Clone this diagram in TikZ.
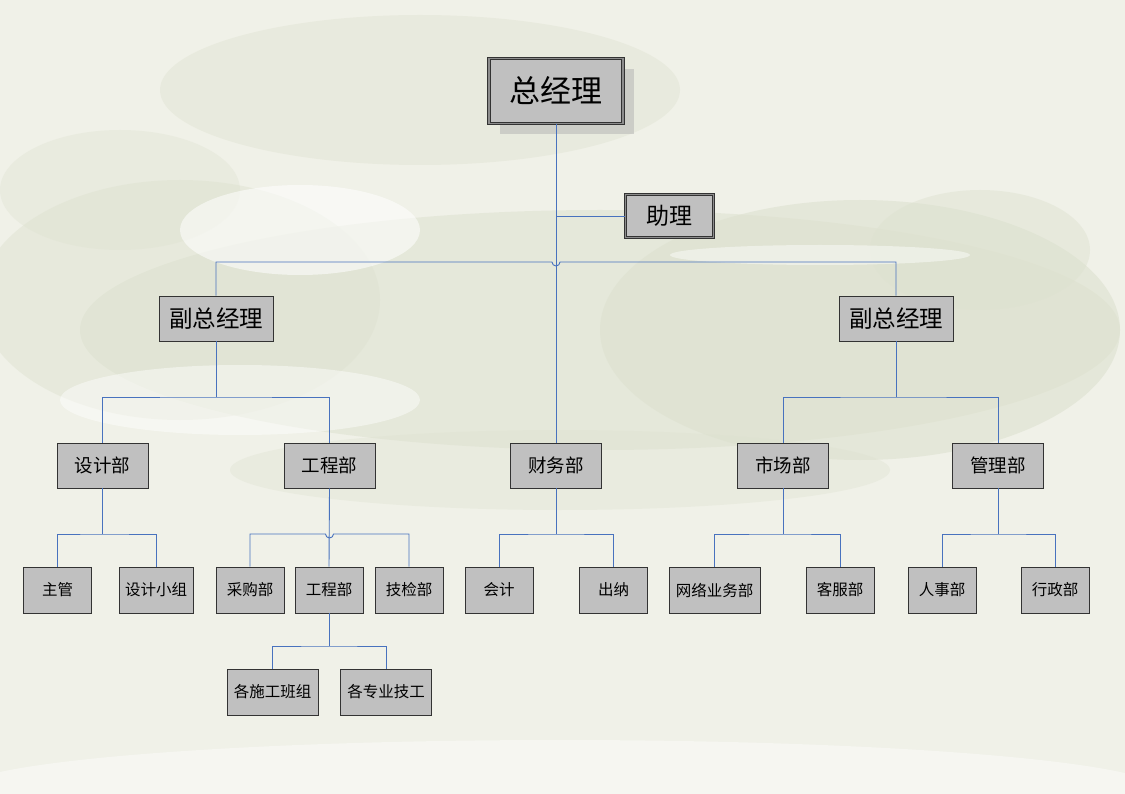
\documentclass[tikz,border=0pt]{standalone}
\usepackage{fontspec}
\setmainfont{Noto Sans CJK SC}
\usetikzlibrary{shadows}
\definecolor{cbg}{RGB}{240,241,232}
\definecolor{ccloud}{RGB}{221,225,207}
\definecolor{clink}{RGB}{72,114,190}
\definecolor{cbox}{RGB}{192,192,192}
\tikzset{org/.style={x=1pt,y=-1pt,inner sep=0pt}}
\tikzset{unit/.style={draw=black!80,fill=cbox,line width=0.9pt,text=black},
         dept/.style={unit,minimum width=91pt,minimum height=45pt,font=\fontsize{18.5}{20}\selectfont},
         team/.style={unit,minimum width=68pt,minimum height=46pt,font=\fontsize{15.5}{17}\selectfont},
         vp/.style={unit,minimum width=114pt,minimum height=45pt,font=\fontsize{23.5}{25}\selectfont},
         link/.style={clink,line width=0.9pt}}

\begin{document}
\begin{tikzpicture}[org]
    \useasboundingbox (0,0) rectangle (1125,794);
    \fill[cbg] (0,0) rectangle (1125,794);
    % clouds
    \begin{scope}
      \clip (0,0) rectangle (1125,794);
      \begin{scope}[ccloud]
        \fill[opacity=0.55] (600,330) ellipse (520 and 120);
        \fill[opacity=0.60] (860,330) ellipse (260 and 130);
        \fill[opacity=0.45] (180,300) ellipse (200 and 120);
        \fill[opacity=0.40] (420,90) ellipse (260 and 75);
        \fill[opacity=0.45] (980,250) ellipse (110 and 60);
        \fill[opacity=0.35] (560,470) ellipse (330 and 40);
        \fill[opacity=0.35] (120,190) ellipse (120 and 60);
      \end{scope}
      \fill[white,opacity=0.55] (300,230) ellipse (120 and 45);
      \fill[white,opacity=0.45] (820,255) ellipse (150 and 10);
      \fill[white,opacity=0.45] (240,400) ellipse (180 and 35);
      \fill[white,opacity=0.40] (560,790) ellipse (600 and 50);
    \end{scope}

    \node[unit,double=black!45,double distance=1.6pt,line width=0.9pt,
          minimum width=134pt,minimum height=65pt,font=\fontsize{31}{33}\selectfont,
          drop shadow={shadow xshift=11pt,shadow yshift=-11pt,fill=black!30,opacity=0.5}]
          (ceo) at (556,91) {总经理};
    \node[unit,double=black!45,double distance=1.6pt,line width=0.9pt,
          minimum width=88pt,minimum height=43pt,font=\fontsize{23}{25}\selectfont]
          (asst) at (669.5,216) {助理};
    \node[vp] (vpL) at (216,318.5) {副总经理};
    \node[vp] (vpR) at (896,318.5) {副总经理};

    \node[dept] (des) at (102.5,465.5) {设计部};
    \node[dept] (eng) at (329.5,465.5) {工程部};
    \node[dept] (fin) at (556,465.5) {财务部};
    \node[dept] (mkt) at (783,465.5) {市场部};
    \node[dept] (adm) at (998,465.5) {管理部};

    \node[team] (sup)  at (57.5,590) {主管};
    \node[team,minimum width=74pt] (dgrp) at (156,590) {设计小组};
    \node[team] (pur)  at (250,590) {采购部};
    \node[team] (eng2) at (329,590) {工程部};
    \node[team] (qc)   at (409,590) {技检部};
    \node[team] (acc)  at (499,590) {会计};
    \node[team] (cash) at (613.5,590) {出纳};
    \node[team,minimum width=91pt] (net) at (714.5,590) {网络业务部};
    \node[team] (cs)   at (840,590) {客服部};
    \node[team] (hr)   at (942,590) {人事部};
    \node[team] (off)  at (1055,590) {行政部};

    \node[team,minimum width=91pt] (crew) at (272.5,692) {各施工班组};
    \node[team,minimum width=91pt] (tech) at (386,692) {各专业技工};

    % buses
    \coordinate (bTop) at (556,262);
    \coordinate (bL) at (216,397);
    \coordinate (bR) at (896,397);
    \coordinate (bDes) at (102.5,534);
    \coordinate (bEng) at (329.5,534);
    \coordinate (bFin) at (556,534);
    \coordinate (bMkt) at (783,534);
    \coordinate (bAdm) at (998,534);
    \coordinate (bSub) at (329,646);

    \draw[link] (ceo.south) -- (fin.north);
    \draw[link] (asst.west) -- (ceo.south |- asst.west);
    \draw[link] (vpL.north) |- ([xshift=-4pt]bTop) arc[start angle=180,end angle=360,radius=4pt]
                -- (bTop -| vpR.north) -- (vpR.north);
    \draw[link] (vpL.south) -- (bL);
    \draw[link] (des.north) |- (bL) -| (eng.north);
    \draw[link] (vpR.south) -- (bR);
    \draw[link] (mkt.north) |- (bR) -| (adm.north);

    \draw[link] (des.south) -- (bDes);
    \draw[link] (sup.north) |- (bDes) -| (dgrp.north);
    \draw[link] (eng.south) -- (eng2.north);
    \draw[link] (pur.north) |- ([xshift=-4pt]bEng) arc[start angle=180,end angle=360,radius=4pt]
                -- (bEng -| qc.north) -- (qc.north);
    \draw[link] (fin.south) -- (bFin);
    \draw[link] (acc.north) |- (bFin) -| (cash.north);
    \draw[link] (mkt.south) -- (bMkt);
    \draw[link] (net.north) |- (bMkt) -| (cs.north);
    \draw[link] (adm.south) -- (bAdm);
    \draw[link] (hr.north) |- (bAdm) -| (off.north);

    \draw[link] (eng2.south) -- (bSub);
    \draw[link] (crew.north) |- (bSub) -| (tech.north);
\end{tikzpicture}
\end{document}
